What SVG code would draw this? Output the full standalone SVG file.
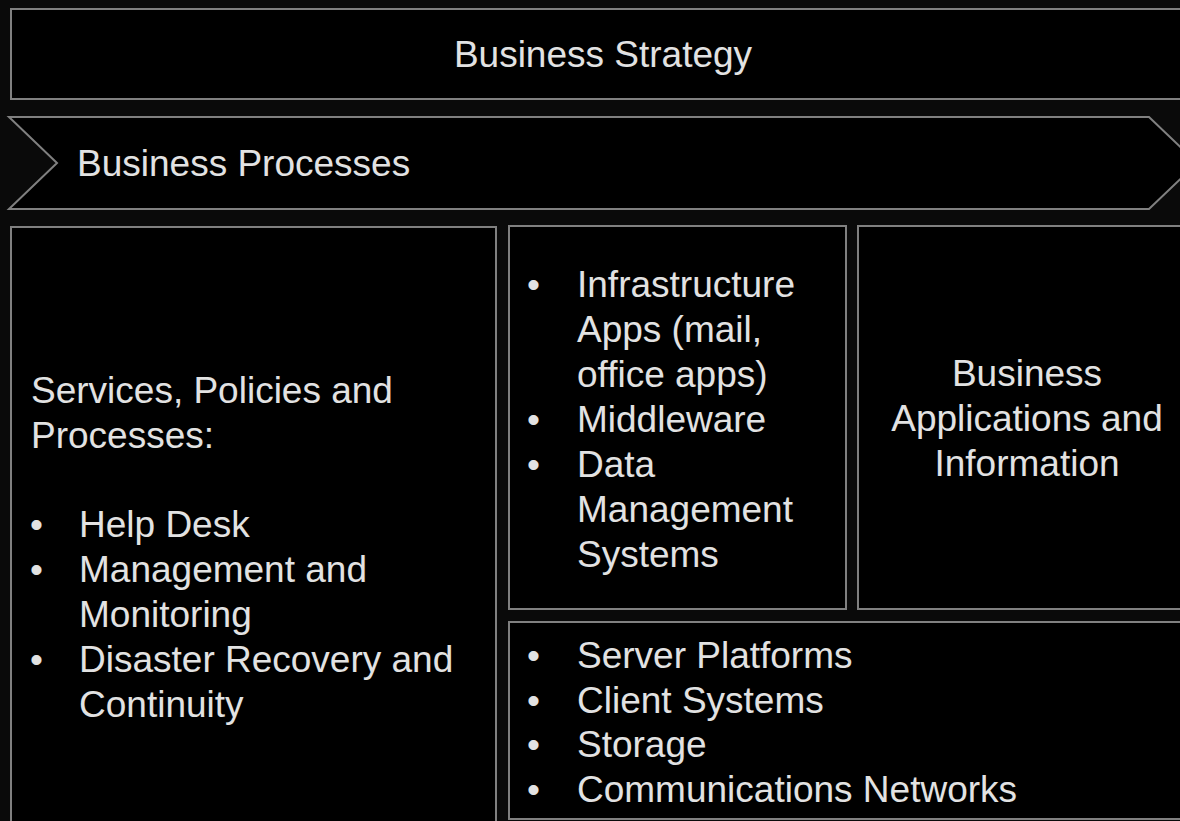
<svg xmlns="http://www.w3.org/2000/svg" width="1180" height="821" viewBox="0 0 1180 821">
  <style>
    .box { fill: #000000; stroke: #808080; stroke-width: 2; }
    .t { font-family: "Liberation Sans", Arial, sans-serif; font-size: 37px; fill: #e2e2e2; }
    .c { text-anchor: middle; }
  </style>
  <rect x="0" y="0" width="1180" height="821" fill="#0a0a0a"/>
  <g id="business-strategy">
    <rect class="box" x="11" y="9" width="1185" height="90"/>
    <text class="t c" x="603" y="67">Business Strategy</text>
  </g>
  <g id="business-processes">
    <polygon class="box" points="9,117 1149,117 1197,163 1149,209 9,209 57,163"/>
    <text class="t" x="77" y="176">Business Processes</text>
  </g>
  <g id="services-policies">
    <rect class="box" x="11" y="227" width="485" height="620"/>
    <text class="t" x="31" y="403">Services, Policies and</text>
    <text class="t" x="31" y="448">Processes:</text>
    <text class="t" x="30" y="537">•</text>
    <text class="t" x="79" y="537">Help Desk</text>
    <text class="t" x="30" y="582">•</text>
    <text class="t" x="79" y="582">Management and</text>
    <text class="t" x="79" y="627">Monitoring</text>
    <text class="t" x="30" y="672">•</text>
    <text class="t" x="79" y="672">Disaster Recovery and</text>
    <text class="t" x="79" y="717">Continuity</text>
  </g>
  <g id="infrastructure-apps">
    <rect class="box" x="509" y="226" width="337" height="383"/>
    <text class="t" x="527" y="297">•</text>
    <text class="t" x="577" y="297">Infrastructure</text>
    <text class="t" x="577" y="342">Apps (mail,</text>
    <text class="t" x="577" y="387">office apps)</text>
    <text class="t" x="527" y="432">•</text>
    <text class="t" x="577" y="432">Middleware</text>
    <text class="t" x="527" y="477">•</text>
    <text class="t" x="577" y="477">Data</text>
    <text class="t" x="577" y="522">Management</text>
    <text class="t" x="577" y="567">Systems</text>
  </g>
  <g id="business-applications">
    <rect class="box" x="858" y="226" width="338" height="383"/>
    <text class="t c" x="1027" y="386">Business</text>
    <text class="t c" x="1027" y="431">Applications and</text>
    <text class="t c" x="1027" y="476">Information</text>
  </g>
  <g id="platforms">
    <rect class="box" x="509" y="622" width="687" height="197"/>
    <text class="t" x="527" y="668">•</text>
    <text class="t" x="577" y="668">Server Platforms</text>
    <text class="t" x="527" y="713">•</text>
    <text class="t" x="577" y="713">Client Systems</text>
    <text class="t" x="527" y="757">•</text>
    <text class="t" x="577" y="757">Storage</text>
    <text class="t" x="527" y="802">•</text>
    <text class="t" x="577" y="802">Communications Networks</text>
  </g>
  <g id="connectors"></g>
</svg>
